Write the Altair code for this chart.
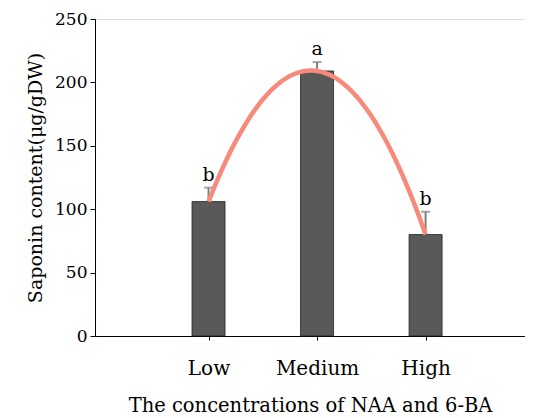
import altair as alt
import pandas as pd

categories = ["Low", "Medium", "High"]
positions = [1, 2, 3]
saponin = [106, 209, 80]
errors = [11, 7, 18]
letters = ["b", "a", "b"]

df = pd.DataFrame({
    "cat": categories,
    "pos": positions,
    "val": saponin,
    "err": errors,
    "letter": letters,
})
df["top"] = df["val"] + df["err"]

FONT = "DejaVu Serif"

x_enc = alt.X(
    "pos:Q",
    scale=alt.Scale(domain=[0, 3.87], nice=False, zero=False),
    axis=alt.Axis(
        values=positions,
        labelExpr="datum.value == 1 ? 'Low' : datum.value == 2 ? 'Medium' : 'High'",
        title="The concentrations of NAA and 6-BA",
        grid=False,
        domainColor="black",
        tickColor="black",
        tickSize=4,
        labelPadding=18,
        labelFontSize=20,
        labelFont=FONT,
        labelColor="black",
        titleFont=FONT,
        titleFontSize=19.5,
        titleFontWeight="normal",
        titleColor="black",
        titlePadding=18,
    ),
)
y_scale = alt.Scale(domain=[0, 250], nice=False)
y_axis = alt.Axis(
    values=[0, 50, 100, 150, 200, 250],
    title="Saponin content(μg/gDW)",
    grid=False,
    domainColor="black",
    tickColor="black",
    tickSize=5,
    labelFontSize=17,
    labelFont=FONT,
    labelColor="black",
    labelPadding=3,
    titleFont=FONT,
    titleFontSize=19,
    titleFontWeight="normal",
    titleColor="black",
    titlePadding=9,
)

base = alt.Chart(df)

bars = base.mark_bar(size=33, color="#595959", stroke="#222222", strokeWidth=0.8).encode(
    x=x_enc,
    y=alt.Y("val:Q", scale=y_scale, axis=y_axis),
)

err_rule = base.mark_rule(color="#808080", strokeWidth=2).encode(
    x="pos:Q", y="val:Q", y2="top:Q"
)
err_cap = base.mark_tick(color="#808080", thickness=2, size=9, orient="horizontal").encode(
    x="pos:Q", y="top:Q"
)

curve = base.transform_regression(
    "pos", "val", method="poly", order=2, extent=[1, 3]
).mark_line(color="#F88A7B", strokeWidth=4.5, interpolate="monotone").encode(
    x="pos:Q", y="val:Q"
)

labels = base.mark_text(font=FONT, fontSize=19, color="black", dy=-13).encode(
    x="pos:Q", y="top:Q", text="letter:N"
)

chart = alt.layer(bars, err_rule, err_cap, curve, labels).properties(
    width=430,
    height=317,
    padding={"left": 87, "top": 11, "right": 0, "bottom": 84},
    autosize=alt.AutoSizeParams(type="none"),
).configure_view(stroke=None).configure(background="white")

chart.save("out.html", embed_options={"renderer": "svg", "actions": False})
